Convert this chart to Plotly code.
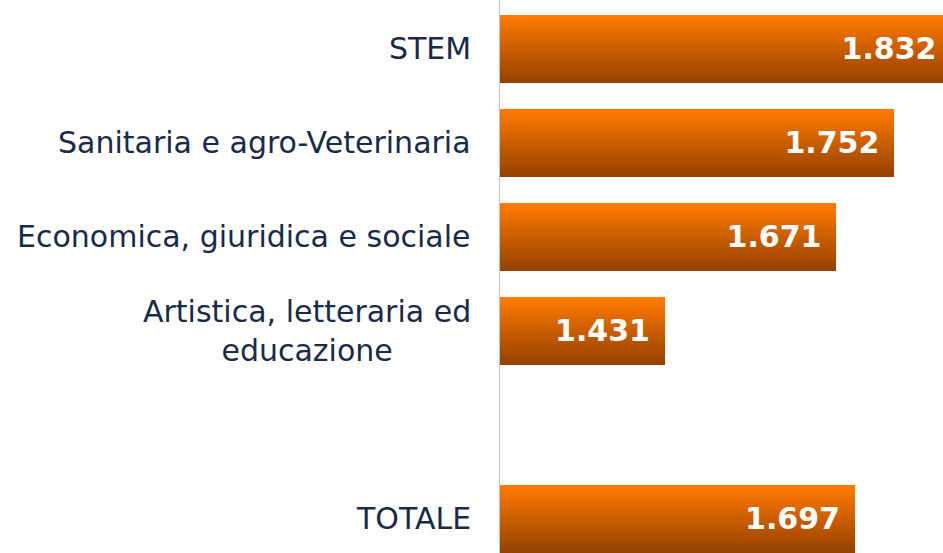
import plotly.graph_objects as go

# ---- data ----
categories = ["STEM", "Sanitaria e agro-Veterinaria", "Economica, giuridica e sociale",
              "Artistica, letteraria ed educazione", "TOTALE"]
display_labels = ["STEM", "Sanitaria e agro-Veterinaria", "Economica, giuridica e sociale",
                  "Artistica, letteraria ed<br>educazione", "TOTALE"]
values = [1832, 1752, 1671, 1431, 1697]
row_order = ["STEM", "Sanitaria e agro-Veterinaria", "Economica, giuridica e sociale",
             "Artistica, letteraria ed educazione", " ", "TOTALE"]

# ---- style ----
FONT = "DejaVu Sans"
NAVY = "#182B4C"
TOP = (255, 122, 0)
BOT = (150, 66, 0)
BAR_W = 0.724
N_BANDS = 24
band = BAR_W / N_BANDS

X_RANGE = [1200, 1820.2]
PLOT_W = 443
units_per_px = (X_RANGE[1] - X_RANGE[0]) / PLOT_W
TEXT_PAD_PX = 15          # gap between value label and bar end
Y_RANGE = [5.362, -0.521]
Y_TEXT_SHIFT_PX = 3

fig = go.Figure()
for k in range(N_BANDS):
    t = k / (N_BANDS - 1)
    c = tuple(round(TOP[i] + (BOT[i] - TOP[i]) * t) for i in range(3))
    w = band * 1.4 if k < N_BANDS - 1 else band
    fig.add_trace(go.Bar(
        x=values, y=categories, orientation="h",
        width=w, offset=-BAR_W / 2 + k * band,
        marker=dict(color="rgb(%d,%d,%d)" % c, line=dict(width=0)),
        hoverinfo="skip", showlegend=False,
    ))

# value labels on overlaid (padded) axes
fig.add_trace(go.Scatter(
    x=values, y=categories, mode="text", xaxis="x2", yaxis="y2",
    texttemplate="%{x:,}", textposition="middle left",
    textfont=dict(family=FONT, size=30, color="white", weight="bold"),
    cliponaxis=False, hoverinfo="skip", showlegend=False,
))

annotations = []
for cat, lab in zip(categories, display_labels):
    annotations.append(dict(
        x=0, xref="paper", y=cat, yref="y", text=lab, showarrow=False,
        xanchor="right", yanchor="middle", align="center", xshift=-27,
        font=dict(family=FONT, size=30, color=NAVY),
    ))

dx = TEXT_PAD_PX * units_per_px
dy = Y_TEXT_SHIFT_PX / 94

fig.update_layout(
    width=943, height=553,
    margin=dict(l=500, r=0, t=0, b=0),
    paper_bgcolor="white", plot_bgcolor="white",
    barmode="overlay", bargap=0,
    separators=",.",
    showlegend=False,
    annotations=annotations,
    xaxis=dict(range=X_RANGE, showgrid=False, zeroline=False,
               showticklabels=False, showline=False, ticks=""),
    xaxis2=dict(overlaying="x", range=[X_RANGE[0] + dx, X_RANGE[1] + dx], visible=False),
    yaxis=dict(type="category", categoryorder="array", categoryarray=row_order,
               range=Y_RANGE, showgrid=False, zeroline=False,
               showticklabels=False, ticks="", showline=True,
               linecolor="#C4C4C4", linewidth=1),
    yaxis2=dict(type="category", categoryorder="array", categoryarray=row_order,
                overlaying="y", range=[Y_RANGE[0] - dy, Y_RANGE[1] - dy],
                visible=False),
)

fig.write_html("out.html", config={"displayModeBar": False},
               post_script="document.body.style.margin='0';document.body.style.overflow='hidden';")
